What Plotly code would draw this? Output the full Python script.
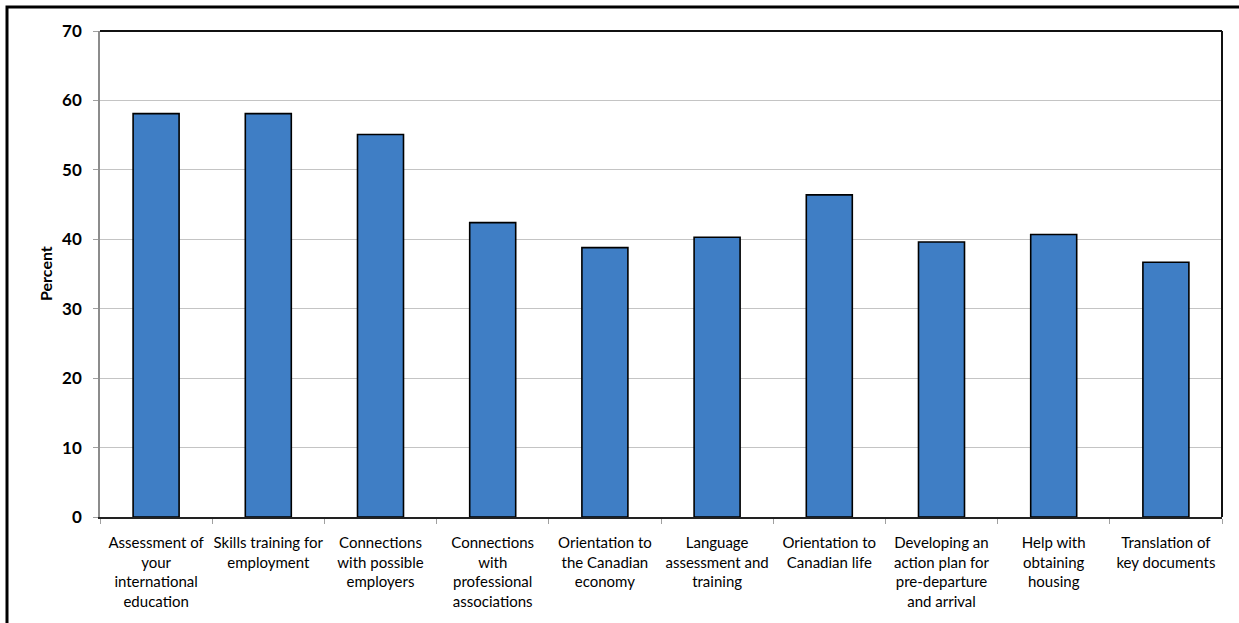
import plotly.graph_objects as go

categories = [
    "Assessment of<br>your<br>international<br>education",
    "Skills training for<br>employment",
    "Connections<br>with possible<br>employers",
    "Connections<br>with<br>professional<br>associations",
    "Orientation to<br>the Canadian<br>economy",
    "Language<br>assessment and<br>training",
    "Orientation to<br>Canadian life",
    "Developing an<br>action plan for<br>pre-departure<br>and arrival",
    "Help with<br>obtaining<br>housing",
    "Translation of<br>key documents",
]
values = [58.1, 58.1, 55.1, 42.4, 38.8, 40.3, 46.4, 39.6, 40.7, 36.7]
y_ticks = [0, 10, 20, 30, 40, 50, 60, 70]

W, H = 1239, 623
ml, mr, mt, mb = 100, 17, 31, 106
pw, ph = W - ml - mr, H - mt - mb

def px_x(x):
    return (x - ml) / pw

def px_y(y):
    return (H - mb - y) / ph

fig = go.Figure()
fig.add_trace(go.Bar(
    x=categories, y=values,
    marker=dict(color="#3F7EC5", line=dict(color="#000000", width=1.6)),
    width=0.41,
))

fig.update_layout(
    width=W, height=H,
    margin=dict(l=ml, r=mr, t=mt, b=mb, pad=0),
    paper_bgcolor="white", plot_bgcolor="white",
    showlegend=False,
    font=dict(family="Lato, Liberation Sans, sans-serif", color="#000000"),
    xaxis=dict(
        type="category",
        showline=True, linecolor="#222222", linewidth=2,
        ticks="outside", tickson="boundaries", ticklen=5, tickcolor="#a0a0a0", tickwidth=1,
        tickfont=dict(size=15, color="#000000"),
        ticklabelstandoff=11,
        tickangle=0, showgrid=False,
        range=[-0.5, len(categories) - 0.5],
    ),
    yaxis=dict(
        range=[0, 70], tickvals=y_ticks,
        showline=True, linecolor="#8c8c8c", linewidth=1.5,
        ticks="outside", ticklen=5, tickcolor="#a0a0a0", tickwidth=1,
        tickfont=dict(size=17, color="#000000", weight="bold"),
        ticklabelstandoff=8,
        showgrid=True, gridcolor="#c4c4c4", gridwidth=1.2,
        zeroline=False,
    ),
    shapes=[
        dict(type="line", xref="paper", yref="paper", x0=0, x1=1, y0=1, y1=1,
             line=dict(color="#111111", width=2)),
        dict(type="line", xref="paper", yref="paper", x0=1, x1=1, y0=0, y1=1,
             line=dict(color="#111111", width=2)),
        dict(type="rect", xref="paper", yref="paper",
             x0=px_x(7), x1=px_x(W + 10), y0=px_y(H + 10), y1=px_y(7),
             line=dict(color="#000000", width=3), layer="above"),
    ],
    annotations=[
        dict(text="Percent", xref="paper", yref="paper", x=px_x(45), y=px_y(274),
             textangle=-90, showarrow=False, xanchor="center", yanchor="middle",
             font=dict(size=16, color="#000000", weight="bold")),
    ],
)

fig.write_html("out.html", config={"displayModeBar": False},
               post_script="document.body.style.margin='0px';")
